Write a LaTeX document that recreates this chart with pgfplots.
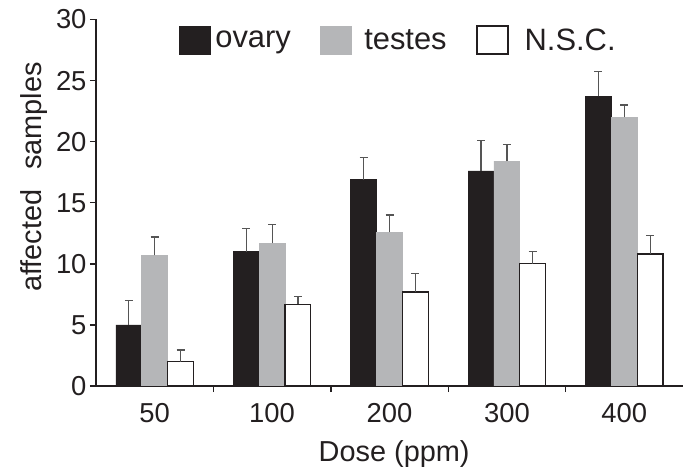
\documentclass[border=0pt]{standalone}
\usepackage{fontspec}
\setmainfont{Liberation Sans}
\usepackage{pgfplots}
\pgfplotsset{compat=1.18}
\definecolor{barblack}{HTML}{231F20}
\definecolor{bargray}{HTML}{B5B6B8}
\definecolor{errgray}{HTML}{555555}
\begin{document}
\begin{tikzpicture}
\useasboundingbox (0,0) rectangle (691bp,469bp);
\begin{axis}[
  at={(96bp,83bp)}, anchor=south west,
  scale only axis, width=587bp, height=366.5bp,
  xmin=-0.5, xmax=4.5, ymin=0, ymax=30,
  ybar, bar width=0.22,
  axis x line*=bottom, axis y line*=left,
  axis line style={line width=1.6bp, color=barblack, -},
  xtick={0,1,2,3,4}, xticklabels={50,100,200,300,400},
  major x tick style={draw=none},
  minor xtick={0.5,1.5,2.5,3.5},
  minor x tick style={line width=1.4bp, barblack},
  minor tick length=6bp,
  ytick={0,5,...,30},
  y tick style={line width=1.4bp, barblack},
  major tick length=6bp,
  tick align=outside,
  /pgf/number format/assume math mode=true,
  ticklabel style={font=\fontsize{27.5}{27.5}\selectfont, text=barblack},
  xticklabel style={yshift=-8bp},
  xlabel={Dose (ppm)}, ylabel={affected\hspace{0.4em} samples},
  label style={font=\fontsize{29}{29}\selectfont, text=barblack},
  xlabel style={at={(axis description cs:0.508,-0.207)}, anchor=base},
  ylabel style={at={(axis description cs:-0.092,0.570)}, anchor=base},
  legend columns=3,
  legend style={at={(0.141,0.944)}, anchor=west, draw=none, fill=none, inner sep=0pt,
    font=\fontsize{31}{31}\selectfont, text=barblack,
    /tikz/every even column/.append style={column sep=27bp}},
  error bars/y dir=plus, error bars/y explicit,
  error bars/error bar style={errgray, line width=1.2bp},
  error bars/error mark options={rotate=90, mark size=4bp, line width=1.2bp, errgray},
]
\addplot[bar shift=-0.22, fill=barblack, draw=barblack, line width=0.8bp,
  legend image code/.code={\draw[fill=barblack, draw=barblack, line width=0.8bp] (0bp,-14bp) rectangle (31bp,14bp); \path[draw=none, fill=none] (0bp,0bp) -- (34bp,0bp);}]
  coordinates {(0,5.0) +- (0,2.0) (1,11.0) +- (0,1.9) (2,16.9) +- (0,1.8) (3,17.6) +- (0,2.5) (4,23.7) +- (0,2.05)};
\addlegendentry{ovary}
\addplot[bar shift=0, fill=bargray, draw=bargray, line width=0.8bp,
  legend image code/.code={\draw[fill=bargray, draw=bargray, line width=0.8bp] (0bp,-14bp) rectangle (31bp,14bp); \path[draw=none, fill=none] (0bp,0bp) -- (42bp,0bp);}]
  coordinates {(0,10.7) +- (0,1.5) (1,11.7) +- (0,1.55) (2,12.6) +- (0,1.4) (3,18.4) +- (0,1.4) (4,22.0) +- (0,1.0)};
\addlegendentry{testes}
\addplot[bar shift=0.22, fill=white, draw=barblack, line width=1.2bp,
  legend image code/.code={\draw[fill=white, draw=barblack, line width=2bp] (0bp,-14bp) rectangle (31bp,14bp); \path[draw=none, fill=none] (0bp,0bp) -- (46bp,0bp);}]
  coordinates {(0,2.0) +- (0,0.95) (1,6.7) +- (0,0.6) (2,7.7) +- (0,1.5) (3,10.0) +- (0,1.0) (4,10.8) +- (0,1.5)};
\addlegendentry{N.S.C.}
\end{axis}
\end{tikzpicture}
\end{document}
